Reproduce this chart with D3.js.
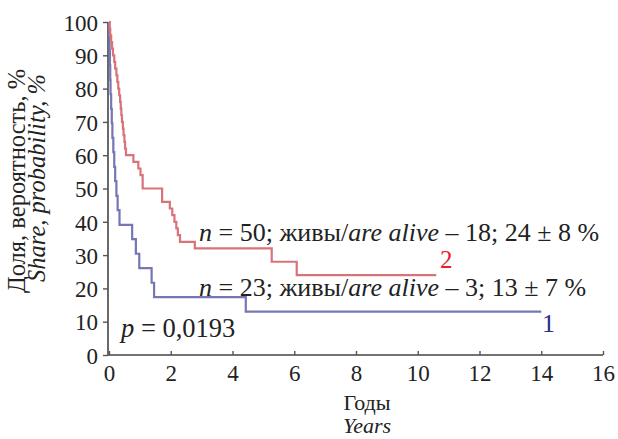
<!DOCTYPE html>
<html><head><meta charset="utf-8">
<script src="https://cdn.jsdelivr.net/npm/d3@7"></script>
<style>body{margin:0;background:#fff}svg{display:block}text{font-family:"Liberation Serif","DejaVu Serif",serif;fill:#222}</style>
</head><body>
<script>
// Group 2 (n = 50): step times (years) and survival (%)
const redTimes = [0,0.02,0.04,0.07,0.1,0.13,0.17,0.2,0.24,0.27,0.3,0.33,0.36,0.38,0.4,0.42,0.45,0.47,0.5,0.52,0.55,0.79,0.95,1.02,1.09,1.72,1.97,2.05,2.12,2.18,2.23,2.3,2.78,5.27,6.08];
const redValues = [100,98,96,94,92,90,88,86,84,82,80,78,76,74,72,70,68,66,64,62,60,58,56,54,50,46,44,42,40,38,36,34,32,28,24];
const redEnd = 10.6;
// Group 1 (n = 23)
const blueTimes = [0,0.01,0.02,0.03,0.04,0.05,0.07,0.09,0.11,0.14,0.17,0.2,0.24,0.28,0.34,0.75,0.87,0.98,1.38,1.46,4.43];
const blueValues = [100,95.7,91.3,87,82.6,78.3,73.9,69.6,65.2,60.9,56.5,52.2,47.8,43.5,39.1,34.8,30.4,26.1,21.7,17.4,13.0];
const blueEnd = 14.0;
const xTicks = [0,2,4,6,8,10,12,14,16];
const yTicks = [0,10,20,30,40,50,60,70,80,90,100];

const W = 618, H = 439;
const svg = d3.select("body").append("svg").attr("width", W).attr("height", H);
const x = d3.scaleLinear().domain([0,16]).range([109,603]);
const y = d3.scaleLinear().domain([0,100]).range([355,22]);

const yAxis = svg.append("g").attr("transform","translate(108,0)")
  .call(d3.axisLeft(y).tickValues(yTicks).tickSize(5).tickPadding(5));
const xAxis = svg.append("g").attr("transform","translate(0,355)")
  .call(d3.axisBottom(x).tickValues(xTicks).tickSize(0).tickPadding(9));
[yAxis, xAxis].forEach(g=>{
  g.attr("font-family", null);
  g.select(".domain").attr("stroke","#444").attr("stroke-width",1.6);
  g.selectAll(".tick line").attr("stroke","#555").attr("stroke-width",1.4);
  g.selectAll("text").style("font-family","'Liberation Serif', serif").style("font-size","23px").attr("fill","#222");
});
yAxis.select(".domain").attr("d","M0,355V22");
xAxis.select(".domain").attr("d","M108,0H603");
xAxis.selectAll(".tick").append("line").attr("y1",0).attr("y2",-4).attr("stroke","#555").attr("stroke-width",1.4);
yAxis.selectAll(".tick text").attr("dy","0.36em");
xAxis.selectAll(".tick text").attr("dy","0.75em");

function steps(times, vals, end){
  const pts = times.map((t,i)=>[t,vals[i]]);
  pts.push([end, vals[vals.length-1]]);
  return d3.line().x(d=>x(d[0])).y(d=>y(d[1])).curve(d3.curveStepAfter)(pts);
}
svg.append("path").attr("d", steps(blueTimes, blueValues, blueEnd))
  .attr("fill","none").attr("stroke","#7676b6").attr("stroke-width",2.2);
svg.append("path").attr("d", steps(redTimes, redValues, redEnd))
  .attr("fill","none").attr("stroke","#d8737a").attr("stroke-width",2.2);

function ann(tx, ty, parts, fs){
  const t = svg.append("text").attr("x",tx).attr("y",ty).style("font-size",fs+"px");
  parts.forEach(p=>t.append("tspan").attr("font-style",p[1]?"italic":null).text(p[0]));
  return t;
}
ann(199, 241, [["n",1],[" = 50; живы/",0],["are alive",1],[" – 18; 24 ± 8 %",0]], 26);
ann(199, 296, [["n",1],[" = 23; живы/",0],["are alive",1],[" – 3; 13 ± 7 %",0]], 26);
ann(121, 337, [["p",1],[" = 0,0193",0]], 26.5);
svg.append("text").attr("x",440).attr("y",268).style("font-size","25px").style("fill","#ea2026").text("2");
svg.append("text").attr("x",542).attr("y",332).style("font-size","26px").style("fill","#2b2b8c").text("1");

svg.append("text").attr("transform","translate(25,181) rotate(-90)").attr("text-anchor","middle").style("font-size","24.5px").text("Доля, вероятность, %");
svg.append("text").attr("transform","translate(45,178) rotate(-90)").attr("text-anchor","middle").style("font-size","24.5px").attr("font-style","italic").text("Share, probability, %");
svg.append("text").attr("x",367).attr("y",410).attr("text-anchor","middle").style("font-size","22px").text("Годы");
svg.append("text").attr("x",367).attr("y",433).attr("text-anchor","middle").style("font-size","22px").attr("font-style","italic").text("Years");
</script>
</body></html>
